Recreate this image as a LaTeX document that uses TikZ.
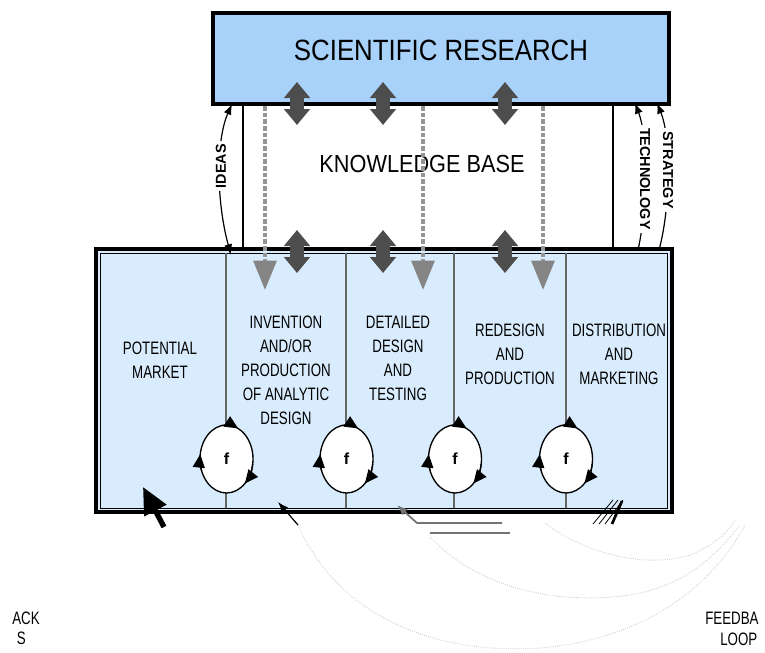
\documentclass[tikz,border=0pt]{standalone}
\usepackage{fontspec}
\setmainfont{Liberation Sans}
\newfontfamily\titlefont[FakeStretch=0.88]{Liberation Sans}
\newfontfamily\colfont[FakeStretch=0.74]{Liberation Sans}
\usetikzlibrary{arrows.meta,shapes.geometric}
\definecolor{srblue}{HTML}{A8D2FA}
\definecolor{pdblue}{HTML}{D8ECFD}
\definecolor{dgray}{HTML}{4D4D4D}
\definecolor{mgray}{HTML}{858585}
\definecolor{lgray}{HTML}{959595}
\tikzset{
  dblarrow/.style={draw=dgray, line width=10.5pt,
    {Triangle[length=12pt,width=19pt]}-{Triangle[length=12pt,width=19pt]}},
  kbarrow/.style={draw=lgray, line width=3pt, dash pattern=on 3.5pt off 1.5pt,
    -{Triangle[length=22pt,width=17pt,color=mgray]}},
  sidearrow/.style={draw=black, line width=0.9pt},
  sidelabel/.style={font=\bfseries\fontsize{10.8}{12}\selectfont, fill=white, inner sep=2.5pt},
  collabel/.style={font=\colfont\fontsize{13.5}{18}\selectfont, align=center},
  divider/.style={draw=black!60, line width=0.9pt},
  floop/.style={ellipse, draw=black, fill=white, line width=1pt, minimum width=39.75pt,
    minimum height=51pt, inner sep=0pt, font=\bfseries\fontsize{12}{14}\selectfont},
  circarrow/.style={draw=black, line width=1pt, -{Triangle[length=10pt,width=9pt]}},
  faint/.style={draw=black!22, densely dotted, line width=0.6pt},
  fblabel/.style={font=\colfont\fontsize{13.5}{15}\selectfont, inner sep=0pt},
}
\begin{document}
\begin{tikzpicture}[x=0.75pt,y=-0.75pt]
\useasboundingbox (0,0) rectangle (765,653);

% knowledge base side lines
\draw[line width=1.3pt] (243,104) -- (243,250);
\draw[line width=1.3pt] (613,104) -- (613,250);

% scientific research box
\draw[fill=srblue, line width=2.6pt] (213,13) rectangle (669,104);
\node[font=\titlefont\fontsize{22}{26}\selectfont] (sr) at (441,50) {SCIENTIFIC RESEARCH};

\node[font=\titlefont\fontsize{18.5}{22}\selectfont] (kb) at (422,164) {KNOWLEDGE BASE};

% process box
\draw[fill=pdblue, line width=2.6pt] (96,249) rectangle (672,512);
\draw[line width=0.7pt] (100.5,253) rectangle (667.5,508);

% dividers and feedback circles
\foreach \cx/\dx [count=\i] in {226.5/226,346.5/346,455/454,566/566}{
  \draw[divider] (\dx,253) -- (\dx,426);
  \draw[divider] (\dx,492) -- (\dx,508);
  \node[floop] (f\i) at (\cx,459) {f};
  \draw[circarrow] ({\cx+26.5*cos(-100)},{459+34*sin(-100)}) arc[start angle=-100,end angle=-64,x radius=26.5,y radius=34];
  \draw[circarrow] ({\cx+26.5*cos(160)},{459+34*sin(160)}) arc[start angle=160,end angle=188,x radius=26.5,y radius=34];
  \draw[circarrow] ({\cx+26.5*cos(8)},{459+34*sin(8)}) arc[start angle=8,end angle=46,x radius=26.5,y radius=34];
}

% column labels
\node[collabel] (pm) at (160,360) {POTENTIAL\\MARKET};
\node[collabel] (inv) at (286,370) {INVENTION\\AND/OR\\PRODUCTION\\OF ANALYTIC\\DESIGN};
\node[collabel] (ddt) at (398,358) {DETAILED\\DESIGN\\AND\\TESTING};
\node[collabel] (rp) at (510,354) {REDESIGN\\AND\\PRODUCTION};
\node[collabel] (dm) at (619,354) {DISTRIBUTION\\AND\\MARKETING};

% double arrows research <-> knowledge base <-> process
\foreach \x in {297,383,505}{
  \draw[dblarrow] (\x,82) -- (\x,125);
  \draw[dblarrow] (\x,230) -- (\x,273);
}

% dashed arrows from research into process
\foreach \x in {265,423,543}{
  \draw[kbarrow] (\x,106) -- (\x,290);
}

% IDEAS
\draw[sidearrow, {Latex[length=8pt,width=6pt]}-{Latex[length=8pt,width=6pt]}]
  (232,104) .. controls (216,140) and (216,200) .. (231,255);
\node[sidelabel, rotate=90] (ideas) at (221,166) {IDEAS};

% TECHNOLOGY
\draw[sidearrow, -{Latex[length=8pt,width=6pt]}]
  (638,250) .. controls (647,210) and (649,140) .. (635,103);
\node[sidelabel, rotate=-90] (tech) at (645,179) {TECHNOLOGY};

% STRATEGY
\draw[sidearrow, -{Latex[length=8pt,width=6pt]}]
  (659,250) .. controls (670,210) and (672,140) .. (657,103);
\node[sidelabel, rotate=-90] (strat) at (668,170) {STRATEGY};

% feedback arrows into the process box
\coordinate (t1) at (164,527);
\coordinate (h1) at (143,487);
\draw[line width=4pt, -{Triangle[length=20pt,width=18pt]}] (t1) -- (h1);

\coordinate (t2) at (298,525);
\coordinate (h2) at (278,502);
\draw[line width=0.9pt, -{Latex[length=8pt,width=6pt]}] (t2) -- (h2);

\coordinate (t3) at (502,523);
\coordinate (h3) at (397,505);
\draw[draw=black!55, line width=1.3pt, -{Latex[length=8pt,width=6pt]}] (t3) -- (417,523) -- (h3);
\draw[draw=black!55, line width=1.3pt] (430,533) -- (510,533);

% hatch marks
\draw[line width=0.6pt] (593,524) -- (613,500);
\draw[line width=0.6pt] (599,524) -- (618,500);
\draw[line width=0.6pt] (605,524) -- (623,500);
\draw[line width=2pt] (612,524) -- (622,501);

% faint feedback loop curves
\draw[faint] (t2) .. controls (340,620) and (440,655) .. (540,648) .. controls (640,640) and (710,590) .. (745,525);
\draw[faint] (430,537) .. controls (480,590) and (560,605) .. (630,595) .. controls (690,585) and (720,550) .. (740,525);
\draw[faint] (545,523) .. controls (580,550) and (640,570) .. (690,555) .. controls (715,545) and (730,530) .. (735,520);

% feedback loop label fragments, as printed
\node[fblabel, anchor=east] (fbl1) at (40,618) {ACK};
\node[fblabel, anchor=east] (fbl2) at (26,638) {S};
\node[fblabel, anchor=west] (fbr1) at (705,618) {FEEDBA};
\node[fblabel, anchor=west] (fbr2) at (720,639) {LOOP};
\end{tikzpicture}
\end{document}
